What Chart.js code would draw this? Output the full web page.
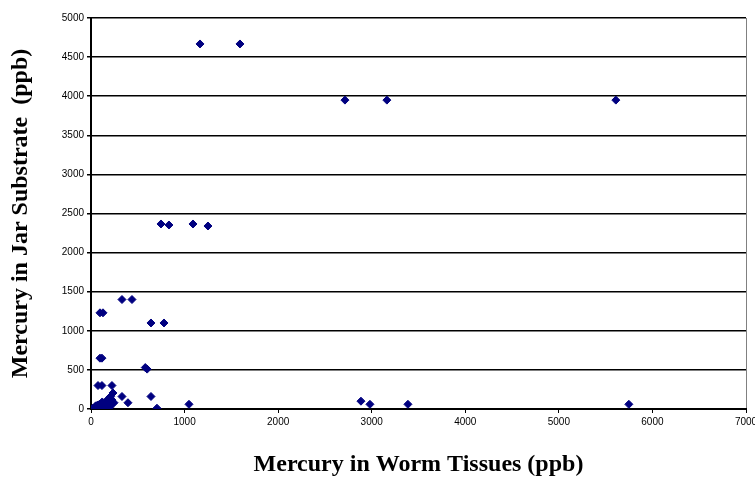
<!DOCTYPE html>
<html>
<head>
<meta charset="utf-8">
<script src="https://cdn.jsdelivr.net/npm/chart.js@4/dist/chart.umd.min.js"></script>
<style>
  html, body { margin: 0; padding: 0; background: #fff; }
  #wrap { width: 755px; height: 477px; }
</style>
</head>
<body>
<div id="wrap"><canvas id="hgChart" width="755" height="477"></canvas></div>
<script>
// mercury in worm tissue (x) vs jar substrate (y), ppb
const wormHg = [
  1165, 1592,
  2714, 3162, 5609,
  748, 833, 1090, 1250,
  331, 438,
  96, 128,
  641, 780,
  96, 117,
  580, 600,
  75, 117, 224,
  331, 641,
  395, 246,
  705, 1047,
  2885, 2981, 3387, 5748,
  235, 224, 235, 200, 180, 160,
  20, 40, 50, 60, 70, 80, 90, 100, 110, 120, 130, 140, 150, 160, 170, 190, 200, 210, 60, 110
];
const jarHg = [
  4668, 4668,
  3950, 3950, 3950,
  2366, 2353, 2366, 2340,
  1400, 1400,
  1230, 1230,
  1100, 1100,
  650, 650,
  530, 510,
  300, 300, 300,
  160, 160,
  80, 80,
  10, 60,
  100, 60, 60, 60,
  205, 115, 77, 150, 110, 80,
  10, 20, 40, 30, 50, 20, 60, 40, 70, 90, 30, 60, 10, 100, 40, 70, 20, 160, 5, 15
];
const xTicks = [0, 1000, 2000, 3000, 4000, 5000, 6000, 7000];
const yTicks = [0, 500, 1000, 1500, 2000, 2500, 3000, 3500, 4000, 4500, 5000];

const NAVY = '#000080';
const points = wormHg.map((x, i) => ({ x: x, y: jarHg[i] }));

const tickFont = { family: 'Liberation Sans', size: 10 };
const titleFont = { family: 'Liberation Serif', size: 24, weight: 'bold', lineHeight: 1 };
const plain = v => String(v);

new Chart(document.getElementById('hgChart').getContext('2d'), {
  type: 'scatter',
  data: {
    datasets: [{
      data: points,
      pointStyle: 'rectRot',
      pointRadius: 4,
      pointBorderWidth: 1,
      backgroundColor: NAVY,
      borderColor: NAVY
    }]
  },
  options: {
    responsive: false,
    animation: false,
    layout: { padding: { left: 0, right: 9, top: 18, bottom: 0 } },
    plugins: { legend: { display: false }, tooltip: { enabled: false } },
    scales: {
      x: {
        type: 'linear',
        min: 0, max: 7000,
        afterBuildTicks: s => { s.ticks = xTicks.map(v => ({ value: v })); },
        afterFit: s => { s.height = 68; s.paddingLeft = 0; s.paddingRight = 0; },
        grid: {
          color: c => (c.tick && c.tick.value === 7000) ? '#808080' : 'rgba(0,0,0,0)',
          tickColor: '#000',
          tickLength: 4,
          lineWidth: 1
        },
        border: { color: '#000', width: 2 },
        ticks: { font: tickFont, color: '#000', padding: 3, maxRotation: 0, callback: plain },
        title: {
          display: true,
          text: 'Mercury in Worm Tissues (ppb)',
          font: titleFont,
          color: '#000',
          padding: { top: 0, bottom: 0 }
        }
      },
      y: {
        type: 'linear',
        min: 0, max: 5000,
        afterBuildTicks: s => { s.ticks = yTicks.map(v => ({ value: v })); },
        afterFit: s => { s.width = 91; s.paddingTop = 0; s.paddingBottom = 0; },
        grid: {
          color: '#000',
          tickColor: '#000',
          tickLength: 4,
          lineWidth: 1.5
        },
        border: { color: '#000', width: 2 },
        ticks: { font: tickFont, color: '#000', padding: 3, callback: plain },
        title: {
          display: true,
          text: 'Mercury in Jar Substrate  (ppb)',
          font: titleFont,
          color: '#000',
          padding: { top: 9, bottom: 0 }
        }
      }
    }
  }
});
</script>
</body>
</html>
